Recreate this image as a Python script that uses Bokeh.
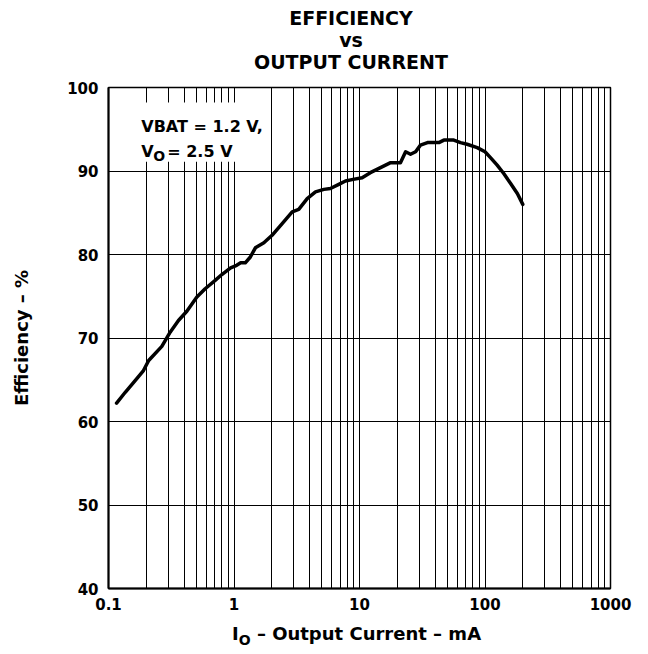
from bokeh.plotting import figure
from bokeh.models import FixedTicker, Label, BoxAnnotation, Range1d, Div
from bokeh.layouts import column
from bokeh.embed import file_html
from bokeh.resources import INLINE

# ---- data ----
current_ma = [0.116, 0.136, 0.163, 0.19, 0.209, 0.266, 0.31, 0.361, 0.421, 0.506,
              0.589, 0.708, 0.80, 0.94, 1.05, 1.13, 1.23, 1.35, 1.48, 1.73,
              2.01, 2.42, 2.91, 3.28, 3.83, 4.46, 5.2, 5.86, 6.84, 7.73,
              8.9, 10.5, 12.2, 14.7, 17.7, 21.2, 23.3, 25.5, 28.0, 30.6,
              34.8, 42.9, 47.0, 56.4, 63.8, 72.0, 86.7, 100.0, 110.6, 125.0,
              141.0, 160.0, 181.0, 200.0]
efficiency_pct = [62.2, 63.5, 64.9, 66.1, 67.3, 69.0, 70.7, 72.1, 73.2, 74.9,
                  75.9, 76.9, 77.6, 78.4, 78.7, 79.0, 79.0, 79.7, 80.8, 81.4,
                  82.3, 83.7, 85.1, 85.4, 86.7, 87.5, 87.8, 87.9, 88.4, 88.8,
                  89.0, 89.2, 89.8, 90.4, 91.0, 91.0, 92.3, 92.0, 92.3, 93.1,
                  93.4, 93.4, 93.7, 93.7, 93.4, 93.2, 92.8, 92.3, 91.6, 90.7,
                  89.7, 88.5, 87.3, 86.0]

x_ticks = [0.1, 1, 10, 100, 1000]
x_tick_labels = ["0.1", "1", "10", "100", "1000"]
x_minor_multipliers = [2, 3, 4, 5, 6, 7, 8, 9]
y_ticks = [40, 50, 60, 70, 80, 90, 100]

title_lines = ["EFFICIENCY", "vs", "OUTPUT CURRENT"]
y_label = "Efficiency \u2013 %"
x_label_main = "I"
x_label_sub = "O"
x_label_rest = " \u2013 Output Current \u2013 mA"
note_line1 = "VBAT = 1.2 V,"
note_line2_main = "V"
note_line2_sub = "O"
note_line2_rest = " = 2.5 V"

FONT = "DejaVu Sans"
TITLE_H = 80

# ---- title block above the plot ----
title_html = (
    '<div style="font-family:\'DejaVu Sans\';font-weight:bold;font-size:19px;'
    'line-height:21.8px;text-align:center;color:black;padding-top:8px;'
    'width:502px;white-space:nowrap;">'
    + "<br>".join(title_lines) + '</div>'
)
tdiv = Div(text=title_html, width=502, height=TITLE_H, margin=(0, 0, 0, 100))

p = figure(x_axis_type="log",
           x_range=Range1d(x_ticks[0], x_ticks[-1]),
           y_range=Range1d(y_ticks[0], y_ticks[-1]),
           frame_width=502, frame_height=501,
           min_border_left=108, min_border_right=30,
           min_border_top=87 - TITLE_H, min_border_bottom=33,
           output_backend="svg", toolbar_location=None)
p.title.visible = False

minor = [m * d for d in x_ticks[:-1] for m in x_minor_multipliers]
p.xaxis.ticker = FixedTicker(ticks=x_ticks, minor_ticks=minor)
p.xaxis.major_label_overrides = {t: s for t, s in zip(x_ticks, x_tick_labels)}
p.yaxis.ticker = FixedTicker(ticks=y_ticks)

for ax in (p.xaxis[0], p.yaxis[0]):
    ax.major_tick_line_color = None
    ax.minor_tick_line_color = None
    ax.axis_line_width = 2
    ax.axis_line_color = "black"
    ax.major_label_text_font = FONT
    ax.major_label_text_font_style = "bold"
    ax.major_label_text_font_size = "15px"
    ax.major_label_text_color = "black"
p.xaxis.major_label_standoff = 3
p.yaxis.major_label_standoff = 4

p.yaxis.axis_label = y_label
p.yaxis.axis_label_text_font = FONT
p.yaxis.axis_label_text_font_style = "bold"
p.yaxis.axis_label_text_font_size = "18px"
p.yaxis.axis_label_text_color = "black"
p.yaxis.axis_label_standoff = 32

p.outline_line_color = "black"
p.outline_line_width = 1.5

p.xgrid.grid_line_color = "black"
p.xgrid.grid_line_width = 1
p.xgrid.minor_grid_line_color = "black"
p.xgrid.minor_grid_line_width = 1
p.ygrid.grid_line_color = "black"
p.ygrid.grid_line_width = 1

p.line(current_ma, efficiency_pct, line_color="black", line_width=3.5,
       line_join="round", line_cap="round")

# white box behind the note
p.add_layout(BoxAnnotation(left=0.12, right=1.82, bottom=91.1, top=98.2,
                           fill_color="white", fill_alpha=1.0, line_color=None))

note_x = 0.1824
common = dict(text_font=FONT, text_font_style="bold", text_baseline="alphabetic",
              text_color="black")
p.add_layout(Label(x=note_x, y=95.36, text=note_line1, text_font_size="16px", **common))
p.add_layout(Label(x=note_x, y=92.28, text=note_line2_main, text_font_size="16px", **common))
p.add_layout(Label(x=note_x, y=92.28, x_offset=12, y_offset=-4, text=note_line2_sub,
                   text_font_size="14px", **common))
p.add_layout(Label(x=note_x, y=92.28, x_offset=26, text=note_line2_rest,
                   text_font_size="16px", **common))

# x axis label (with subscript) below the plot
x_label_html = (
    '<span style="font-family:\'DejaVu Sans\';font-weight:bold;font-size:18px;'
    'color:black;white-space:nowrap;">'
    + x_label_main
    + '<sub style="font-size:14px;">' + x_label_sub + '</sub>'
    + x_label_rest + '</span>'
)
xdiv = Div(text=x_label_html, width=400, height=28, margin=(0, 0, 0, 232))

layout = column(tdiv, p, xdiv, spacing=0)
open("out.html", "w").write(file_html(layout, INLINE))
